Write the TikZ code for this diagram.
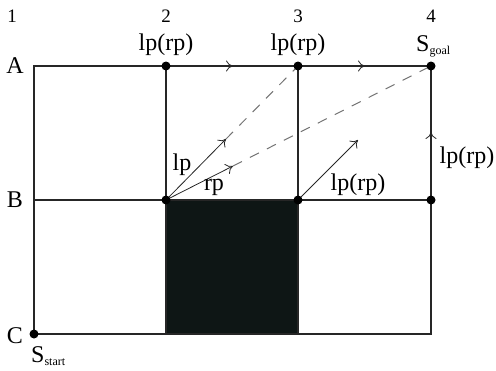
\documentclass[tikz,border=0pt]{standalone}
\usepackage{fontspec}
\setmainfont{Liberation Serif}
\usetikzlibrary{arrows.meta}
\definecolor{obs}{RGB}{14,22,21}
\begin{document}
\begin{tikzpicture}[x=1pt,y=-1pt,
  grid/.style={line width=1.8pt,color=black!85},
  dot/.style={circle,fill=black,inner sep=0pt,minimum size=9pt},
  lab/.style={font=\fontsize{24}{26}\selectfont,inner sep=0pt},
  num/.style={font=\fontsize{19}{21}\selectfont,inner sep=0pt},
  vec/.style={line width=0.8pt,color=black!85,-{To[length=7pt,width=11pt]}},
  dsh/.style={line width=1pt,color=black!55,dash pattern=on 10pt off 9pt}]
\useasboundingbox (0,0) rectangle (496,370);
% coordinates
\coordinate (A1) at (34,66); \coordinate (A2) at (166,66); \coordinate (A3) at (298,66); \coordinate (A4) at (431,66);
\coordinate (B1) at (34,200); \coordinate (B2) at (166,200); \coordinate (B3) at (298,200); \coordinate (B4) at (431,200);
\coordinate (C1) at (34,334); \coordinate (C2) at (166,334); \coordinate (C3) at (298,334); \coordinate (C4) at (431,334);
% obstacle
\fill[obs] (B2) rectangle (C3);
% grid
\draw[grid] (A1) rectangle (C4);
\draw[grid] (B1) -- (B4);
\draw[grid] (A2) -- (C2);
\draw[grid] (A3) -- (C3);
% mid arrows on top edge and right edge
\coordinate (t1) at (233,66);
\coordinate (t2) at (365,66);
\coordinate (r1) at (431,132);
\draw[vec] (A2) -- (t1);
\draw[vec] (A3) -- (t2);
\draw[vec] (B4) -- (r1);
% vectors from B2
\coordinate (lpT) at (226,139);
\coordinate (rpT) at (233,166);
\draw[dsh] (lpT) -- (A3);
\draw[dsh] (rpT) -- (A4);
\draw[vec] (B2) -- (lpT);
\draw[vec] (B2) -- (rpT);
% vector from B3
\coordinate (c3T) at (358,140);
\draw[vec] (B3) -- (c3T);
% dots
\foreach \p in {A2,A3,A4,B2,B3,B4,C1} \node[dot] (d\p) at (\p) {};
% labels
\node[num] (n1) at (12,16) {1};
\node[num] (n2) at (166,16) {2};
\node[num] (n3) at (298,16) {3};
\node[num] (n4) at (431,16) {4};
\node[lab] (lA) at (15,66) {A};
\node[lab] (lB) at (15,200) {B};
\node[lab] (lC) at (15,336) {C};
\node[lab] (l2) at (166,45) {lp(rp)};
\node[lab] (l3) at (298,45) {lp(rp)};
\node[lab,anchor=base west] (lg) at (416,51) {S\textsubscript{\fontsize{12}{13}\selectfont goal}};
\node[lab,anchor=base west] (ls) at (31,362) {S\textsubscript{\fontsize{12}{13}\selectfont start}};
\node[lab] (llp) at (182,165) {lp};
\node[lab] (lrp) at (214,187) {rp};
\node[lab] (l5) at (358,185) {lp(rp)};
\node[lab] (l6) at (467,158) {lp(rp)};
\end{tikzpicture}
\end{document}
